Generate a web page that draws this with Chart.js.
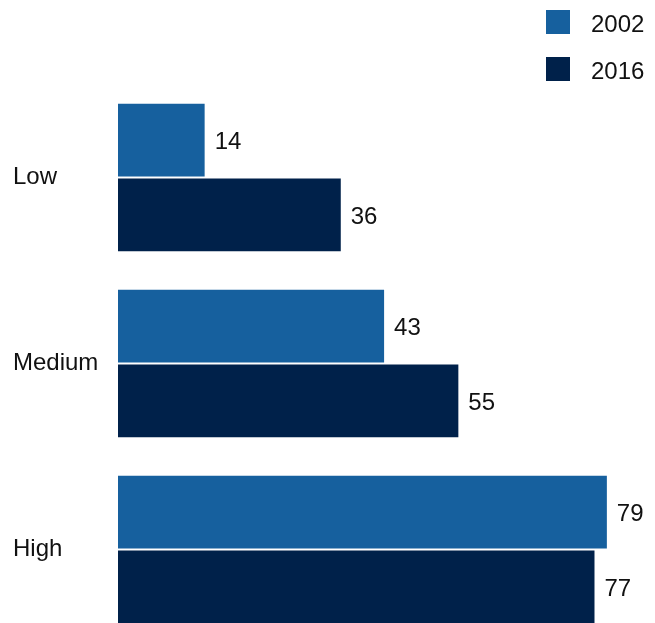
<!DOCTYPE html>
<html>
<head>
<meta charset="utf-8">
<script src="https://cdn.jsdelivr.net/npm/chart.js@4"></script>
<style>
  html, body { margin: 0; padding: 0; background: #fff; overflow: hidden; }
  #wrap { position: relative; width: 655px; height: 623px; overflow: hidden; }
  #chart { position: absolute; left: 0; top: 0; }
  .legend-item { position: absolute; left: 546px; height: 24px; font: 24px "Liberation Sans", Arial, sans-serif; color: #111; }
  .legend-item span.box { position: absolute; left: 0; top: 0; width: 24px; height: 24px; }
  .legend-item span.txt { position: absolute; left: 45px; top: 2px; line-height: 24px; }
</style>
</head>
<body>
<div id="wrap">
  <canvas id="chart" width="655" height="660"></canvas>
  <div id="legend"></div>
</div>
<script>
// data
const categories = ['Low', 'Medium', 'High'];
const seriesNames = ['2002', '2016'];
const values2002 = [14, 43, 79];
const values2016 = [36, 55, 77];
const colors = ['#16609e', '#00214a'];

// legend (html)
const legend = document.getElementById('legend');
seriesNames.forEach((name, i) => {
  const item = document.createElement('div');
  item.className = 'legend-item';
  item.style.top = (10 + i * 47) + 'px';
  item.innerHTML = `<span class="box" style="background:${colors[i]}"></span><span class="txt">${name}</span>`;
  legend.appendChild(item);
});

// value labels next to bars
const valueLabels = {
  id: 'valueLabels',
  afterDatasetsDraw(chart) {
    const ctx = chart.ctx;
    ctx.save();
    ctx.font = '24px "Liberation Sans", Arial, sans-serif';
    ctx.fillStyle = '#111';
    ctx.textAlign = 'left';
    ctx.textBaseline = 'middle';
    chart.data.datasets.forEach((ds, i) => {
      chart.getDatasetMeta(i).data.forEach((bar, j) => {
        ctx.fillText(ds.data[j], bar.x + 10, bar.y + 2);
      });
    });
    ctx.restore();
  }
};

const ctx = document.getElementById('chart').getContext('2d');

new Chart(ctx, {
  type: 'bar',
  data: {
    labels: categories,
    datasets: [
      {
        label: seriesNames[0],
        data: values2002,
        backgroundColor: colors[0],
        barPercentage: 0.973,
        categoryPercentage: 0.804
      },
      {
        label: seriesNames[1],
        data: values2016,
        backgroundColor: colors[1],
        barPercentage: 0.973,
        categoryPercentage: 0.804
      }
    ]
  },
  options: {
    indexAxis: 'y',
    responsive: false,
    animation: false,
    layout: {
      padding: { left: 13, right: 11, top: 84.5, bottom: 16 }
    },
    plugins: {
      legend: { display: false },
      tooltip: { enabled: false }
    },
    scales: {
      x: {
        display: false,
        min: 0,
        max: 85
      },
      y: {
        grid: { display: false },
        border: { display: false },
        ticks: {
          crossAlign: 'far',
          color: '#111',
          font: { family: '"Liberation Sans", Arial, sans-serif', size: 24 }
        },
        afterFit: (scale) => { scale.width = 105; }
      }
    }
  },
  plugins: [valueLabels]
});
</script>
</body>
</html>
